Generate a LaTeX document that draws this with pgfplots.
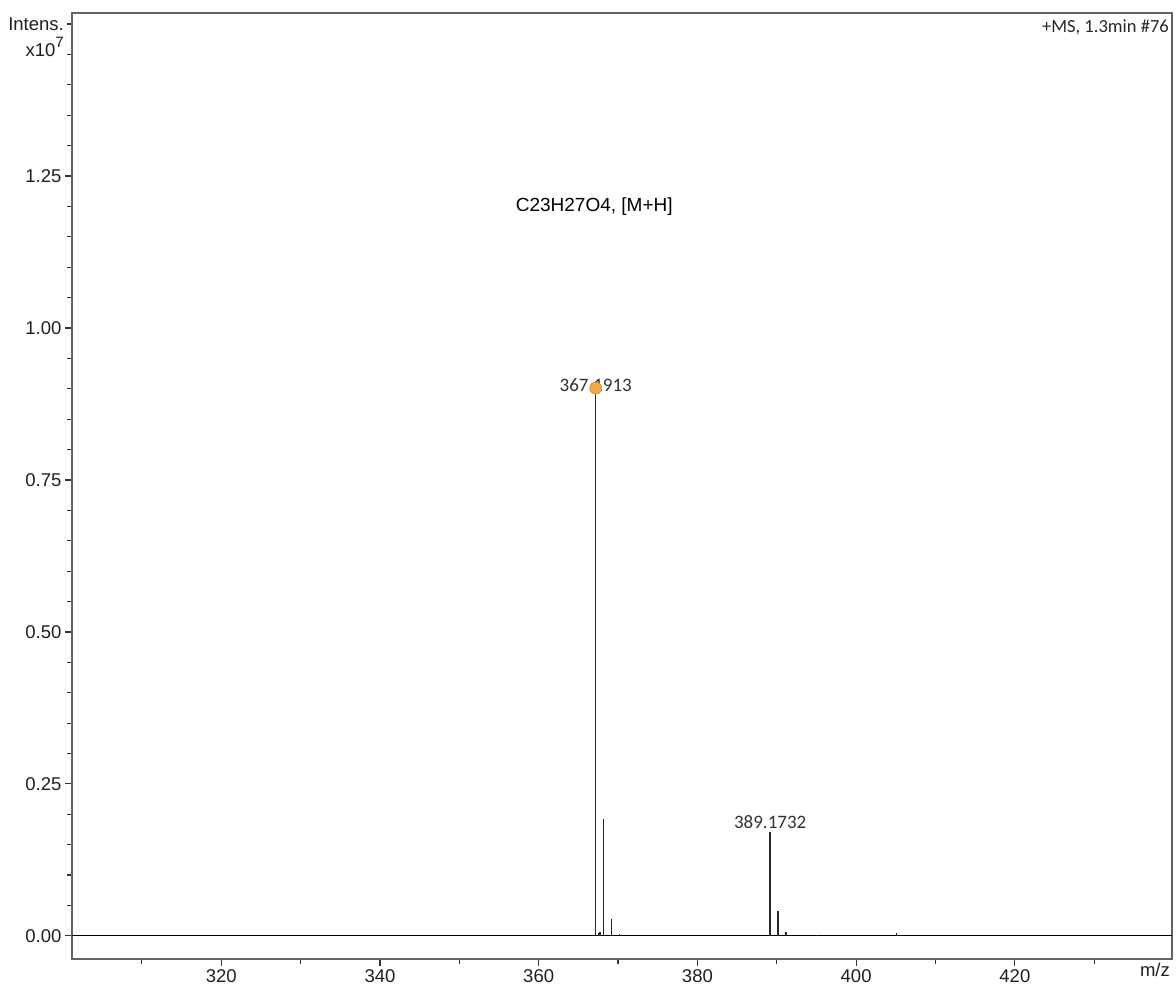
\documentclass[border=0pt]{standalone}
\usepackage{pgfplots}
\pgfplotsset{compat=1.18}
\usepackage{fontspec}
\setmainfont{Liberation Sans}
\newfontfamily\carlito{Carlito}
\definecolor{frame}{RGB}{100,100,100}
\definecolor{ticklab}{RGB}{30,30,40}
\definecolor{peakorange}{RGB}{245,170,70}
\begin{document}
\begin{tikzpicture}
\begin{axis}[
  scale only axis,
  width=1100pt, height=946pt,
  xmin=301.2, xmax=439.8,
  ymin=-0.038, ymax=1.518,
  axis line style={draw=frame, line width=1.4pt},
  xtick={320,340,360,380,400,420},
  minor xtick={310,330,350,370,390,410,430},
  ytick={0,0.25,0.5,0.75,1.0,1.25},
  minor ytick={0.05,0.1,0.15,0.2,0.3,0.35,0.4,0.45,0.55,0.6,0.65,0.7,0.8,0.85,0.9,0.95,1.05,1.1,1.15,1.2,1.3,1.35,1.4,1.45,1.5},
  xtick pos=bottom, ytick pos=left,
  tick align=outside,
  major tick length=7pt, minor tick length=5pt,
  every tick/.style={draw=black!80, line width=1.2pt},
  tick label style={font=\fontsize{18.5}{20}\selectfont, text=ticklab},
  /pgf/number format/assume math mode=true,
  yticklabel style={/pgf/number format/fixed, /pgf/number format/fixed zerofill, /pgf/number format/precision=2},
  xticklabel style={/pgf/number format/1000 sep={}},
  clip=false,
]
\addplot[black, line width=1.2pt] coordinates {(301.2,0) (439.8,0)};
\addplot[ycomb, draw=black!85, line width=1.5pt, mark=none] coordinates {
  (367.19,0.901)
  (367.55,0.004)
  (367.75,0.006)
  (368.19,0.192)
  (369.20,0.028)
  (370.20,0.003)
  (389.17,0.171)
  (390.18,0.041)
  (391.18,0.006)
  (395.00,0.002)
  (405.10,0.004)
};
\addplot[only marks, mark=*, mark size=6pt, mark options={fill=peakorange, draw=peakorange!80!black, line width=0.6pt}] coordinates {(367.19,0.901)};
\node[anchor=base, font=\carlito\fontsize{19}{20}\selectfont, text=black!80, inner sep=0pt] at (axis cs:367.19,0.896) {367.1913};
\node[anchor=base, font=\carlito\fontsize{19}{20}\selectfont, text=black!80, inner sep=0pt] at (axis cs:389.17,0.177) {389.1732};
\node[font=\fontsize{19}{20}\selectfont, text=black] at (axis cs:367.0,1.199) {C23H27O4, [M+H]};
\node[anchor=north east, font=\carlito\fontsize{18.5}{20}\selectfont, text=black!85, inner sep=0pt] at ([xshift=-3pt,yshift=-7pt]rel axis cs:1,1) {+MS, 1.3min \#76};
\node[anchor=east, font=\fontsize{18.5}{20}\selectfont, text=ticklab, inner sep=0pt] at ([xshift=-8pt]axis cs:301.2,1.5) {Intens.};
\node[anchor=east, font=\fontsize{18.5}{20}\selectfont, text=ticklab, inner sep=0pt] at ([xshift=-8pt]axis cs:301.2,1.462) {x10\raisebox{0.45em}{\fontsize{15}{16}\selectfont 7}};
\node[anchor=north east, font=\fontsize{18.5}{20}\selectfont, text=ticklab, inner sep=0pt] at ([xshift=-2pt,yshift=-4pt]rel axis cs:1,0) {m/z};
\end{axis}
\pgfresetboundingbox
\path[use as bounding box] ([xshift=-72pt,yshift=-26pt]current axis.south west) rectangle ([xshift=4pt,yshift=13pt]current axis.north east);
\end{tikzpicture}
\end{document}
